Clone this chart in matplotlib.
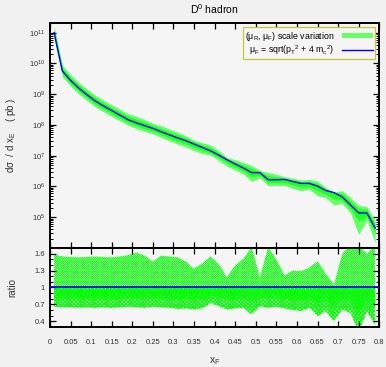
import numpy as np
import matplotlib
matplotlib.use("Agg")
import matplotlib.pyplot as plt
from matplotlib.ticker import MultipleLocator, LogLocator, NullFormatter

plt.rcParams["font.family"] = ["Liberation Sans", "DejaVu Sans"]
plt.rcParams["mathtext.default"] = "regular"

# bin centres in x_F
xf = [0.01, 0.03, 0.05, 0.07, 0.09, 0.11, 0.13, 0.15, 0.17, 0.19,
      0.21, 0.23, 0.25, 0.27, 0.29, 0.31, 0.33, 0.35, 0.37, 0.39,
      0.41, 0.43, 0.45, 0.47, 0.49, 0.51, 0.53, 0.55, 0.57, 0.59,
      0.61, 0.63, 0.65, 0.67, 0.69, 0.71, 0.73, 0.75, 0.77, 0.79]

# log10 of central d sigma / d x (pb)
log_central = [11.0, 9.76, 9.45, 9.20, 8.98, 8.78, 8.62, 8.47, 8.32, 8.17,
               8.07, 7.98, 7.89, 7.78, 7.68, 7.58, 7.49, 7.38, 7.27, 7.16,
               7.02, 6.87, 6.73, 6.60, 6.45, 6.45, 6.22, 6.22, 6.23, 6.16,
               6.10, 6.10, 6.01, 5.87, 5.80, 5.66, 5.40, 5.14, 5.14, 4.65]

# scale variation envelope / central
ratio_up = [1.59, 1.55, 1.54, 1.535, 1.54, 1.55, 1.54, 1.535, 1.55, 1.575,
            1.62, 1.565, 1.46, 1.565, 1.55, 1.535, 1.46, 1.33, 1.43, 1.55,
            1.42, 1.18, 1.40, 1.51, 1.72, 1.18, 1.72, 1.50, 1.22, 1.30,
            1.29, 1.35, 1.47, 1.25, 1.05, 1.60, 1.75, 1.75, 1.60, 1.75]
ratio_dn = [0.66, 0.65, 0.65, 0.64, 0.65, 0.64, 0.65, 0.64, 0.65, 0.66,
            0.65, 0.64, 0.66, 0.65, 0.64, 0.62, 0.63, 0.61, 0.63, 0.72,
            0.67, 0.61, 0.63, 0.64, 0.52, 0.67, 0.64, 0.66, 0.63, 0.60,
            0.58, 0.64, 0.49, 0.58, 0.40, 0.61, 0.55, 0.20, 0.58, 0.33]
# inner (overlapping) part of the variations
inner_up = [1.30, 1.28, 1.27, 1.27, 1.27, 1.28, 1.27, 1.27, 1.28, 1.30,
            1.32, 1.29, 1.24, 1.29, 1.28, 1.27, 1.24, 1.17, 1.22, 1.28,
            1.21, 1.09, 1.20, 1.26, 1.36, 1.09, 1.36, 1.25, 1.11, 1.15,
            1.14, 1.17, 1.23, 1.12, 1.02, 1.30, 1.38, 1.38, 1.30, 1.38]
inner_dn = [0.80, 0.80, 0.80, 0.79, 0.80, 0.79, 0.80, 0.79, 0.80, 0.81,
            0.80, 0.79, 0.81, 0.80, 0.79, 0.78, 0.79, 0.78, 0.79, 0.84,
            0.82, 0.78, 0.79, 0.80, 0.73, 0.82, 0.80, 0.81, 0.79, 0.77,
            0.76, 0.80, 0.71, 0.76, 0.65, 0.78, 0.74, 0.55, 0.76, 0.62]

xtick_vals = [0, 0.05, 0.1, 0.15, 0.2, 0.25, 0.3, 0.35, 0.4,
              0.45, 0.5, 0.55, 0.6, 0.65, 0.7, 0.75, 0.8]
xtick_text = ["0", "0.05", "0.1", "0.15", "0.2", "0.25", "0.3", "0.35", "0.4",
              "0.45", "0.5", "0.55", "0.6", "0.65", "0.7", "0.75", "0.8"]

x = np.array(xf)
central = 10.0 ** np.array(log_central)
rup = np.array(ratio_up)
rdn = np.array(ratio_dn)
iup = np.array(inner_up)
idn = np.array(inner_dn)

fig = plt.figure(figsize=(3.86, 3.67), dpi=100)
fig.patch.set_facecolor("#f1f1f1")
ax1 = fig.add_axes([0.1295, 0.3243, 0.853, 0.6117])
ax2 = fig.add_axes([0.1295, 0.109, 0.853, 0.2153])

for ax in (ax1, ax2):
    ax.set_facecolor("#f5f5f5")
    for s in ax.spines.values():
        s.set_linewidth(1.4)
    ax.tick_params(which="both", direction="in", top=True, right=True,
                   labelsize=5.5, colors="black", labelcolor="#333333")
    ax.tick_params(which="major", length=4, width=0.9)
    ax.tick_params(which="minor", length=2.5, width=0.7)
    ax.set_xticks(xtick_vals)
    ax.set_xlim(0, 0.8)

# top panel
ax1.fill_between(x, central * rdn, central * rup, color="#66ff66", lw=0,
                 label=r"($\mu_R$, $\mu_F$) scale variation")
ax1.fill_between(x, central * idn, central * iup, color="#22ff22", lw=0)
ax1.plot(x, central, color="#0000ff", lw=1.0,
         label=r"$\mu_F$ = sqrt(p$_T$$^2$ + 4 m$_c$$^2$)")
ax1.set_yscale("log")
ax1.set_ylim(1e4, 2e11)
ax1.set_yticks([1e5, 1e6, 1e7, 1e8, 1e9, 1e10, 1e11])
ax1.yaxis.set_minor_locator(LogLocator(base=10, subs=np.arange(2, 10), numticks=20))
ax1.yaxis.set_minor_formatter(NullFormatter())
ax1.tick_params(labelbottom=False)
ax1.set_ylabel(r"d$\sigma$  / d x$_E$    ( pb )", fontsize=7, color="#333333", labelpad=8)
ax1.set_title(r"D$^0$ hadron", fontsize=7.5, pad=7)
leg = ax1.legend(loc="upper right", fontsize=6.3, markerfirst=False, fancybox=False,
                 framealpha=1, facecolor="#f5f5f5", edgecolor="#c8c832",
                 handlelength=3.6, handleheight=0.6, borderpad=0.25,
                 labelspacing=0.1, borderaxespad=0.45)
leg.get_frame().set_linewidth(0.9)

# ratio panel, gnuplot-like pattern fills
with plt.rc_context({"hatch.linewidth": 0.4}):
    ax2.fill_between(x, 1.0, rup, facecolor="none", edgecolor="#00ff00",
                     hatch="x" * 15, lw=0)
    ax2.fill_between(x, idn, 1.0, facecolor="none", edgecolor="#00ff00",
                     hatch="x" * 15, lw=0)
with plt.rc_context({"hatch.linewidth": 0.9}):
    ax2.fill_between(x, rdn, 1.0, facecolor="none", edgecolor="#00ff00",
                     hatch="x" * 9, lw=0)
ax2.plot([0, 0.8], [1, 1], color="#0000ff", lw=1.3, zorder=5)
ax2.set_ylim(0.3, 1.7)
ax2.set_yticks([0.4, 0.7, 1.0, 1.3, 1.6])
ax2.set_yticklabels(["0.4", "0.7", "1", "1.3", "1.6"])
ax2.yaxis.set_minor_locator(MultipleLocator(0.1))
ax2.set_xticklabels(xtick_text)
ax2.tick_params(axis="x", pad=9)
ax2.set_ylabel("ratio", fontsize=7, color="#333333", labelpad=12)
ax2.set_xlabel(r"x$_F$", fontsize=7.5, color="#333333", labelpad=6)

fig.savefig("out.png", dpi=100, facecolor=fig.get_facecolor())
